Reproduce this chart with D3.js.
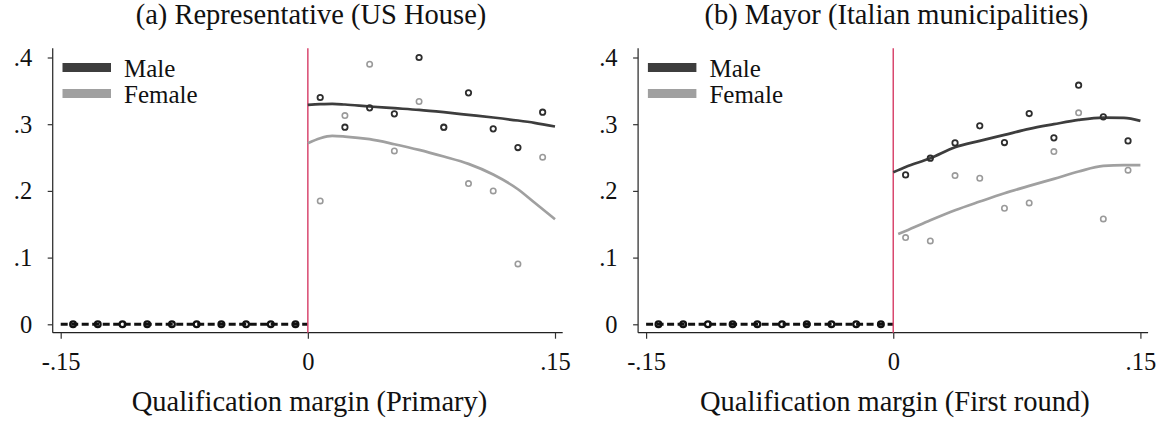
<!DOCTYPE html>
<html>
<head>
<meta charset="utf-8">
<script src="https://cdn.jsdelivr.net/npm/d3@7"></script>
<style>
  body { margin: 0; background: #fff; }
  svg { display: block; }
  text { font-family: "Liberation Serif", "Times New Roman", serif; fill: #111; }
</style>
</head>
<body>
<div id="chart"></div>
<script>
var width = 1167;
var height = 423;

// bin centres of the binned scatter
var binsLeft = [-0.1425, -0.1275, -0.1125, -0.0975, -0.0825, -0.0675, -0.0525, -0.0375, -0.0225, -0.0075];
var binsRight = [0.0075, 0.0225, 0.0375, 0.0525, 0.0675, 0.0825, 0.0975, 0.1125, 0.1275, 0.1425];
var zerosLeft = [0, 0, 0, 0, 0, 0, 0, 0, 0, 0];

// (a) US House
var houseMale = [0.340, 0.2955, 0.3245, 0.3155, 0.400, 0.2955, 0.347, 0.293, 0.265, 0.318];
var houseFemale = [0.185, 0.313, 0.390, 0.260, 0.334, 0.295, 0.211, 0.200, 0.0905, 0.2505];

// (b) Italian mayors
var mayorMale = [0.224, 0.249, 0.272, 0.2975, 0.2725, 0.316, 0.2795, 0.3585, 0.311, 0.275];
var mayorFemale = [0.130, 0.125, 0.223, 0.219, 0.174, 0.182, 0.259, 0.317, 0.158, 0.231];

// local polynomial fits
var fitX = [0, 0.0075, 0.0148, 0.0225, 0.0375, 0.0525, 0.0675, 0.0825, 0.0975, 0.1125, 0.1275, 0.1375, 0.15];
var houseMaleFit = [0.329, 0.330, 0.3305, 0.3295, 0.3265, 0.324, 0.3215, 0.318, 0.314, 0.310, 0.3055, 0.302, 0.2965];
var houseFemaleFit = [0.2715, 0.279, 0.2825, 0.2815, 0.2775, 0.270, 0.2615, 0.2515, 0.2405, 0.2245, 0.2025, 0.1825, 0.1575];
var mayorFitX = [0, 0.0075, 0.0225, 0.0375, 0.0525, 0.0675, 0.0825, 0.0975, 0.1125, 0.1275, 0.14, 0.15];
var mayorMaleFit = [0.228, 0.236, 0.249, 0.2655, 0.275, 0.284, 0.293, 0.300, 0.3065, 0.310, 0.3095, 0.305];
var mayorFemaleFitX = [0.003, 0.0075, 0.0225, 0.0375, 0.0525, 0.0675, 0.0825, 0.0975, 0.1125, 0.1275, 0.14, 0.15];
var mayorFemaleFit = [0.1355, 0.140, 0.156, 0.171, 0.184, 0.1965, 0.2075, 0.218, 0.229, 0.2375, 0.2385, 0.2385];

var xTicks = [-0.15, 0, 0.15];
var xTickLabels = ["-.15", "0", ".15"];
var yTicks = [0, 0.1, 0.2, 0.3, 0.4];
var yTickLabels = ["0", ".1", ".2", ".3", ".4"];
var legendLabels = ["Male", "Female"];

var maleColor = "#3d3d3d";
var femaleColor = "#a0a0a0";
var cutColor = "#d9486f";

var svg = d3.select("#chart").append("svg")
  .attr("width", width)
  .attr("height", height);

var y = d3.scaleLinear().domain([0, 0.4]).range([324.3, 57.5]);

function drawPanel(offset, title, xlabel, male, female, maleFitX, maleFit, femaleFitX, femaleFit) {
  var g = svg.append("g").attr("transform", "translate(" + offset + ",0)");
  var x = d3.scaleLinear().domain([-0.15, 0.15]).range([60.7, 555]);
  var axisLeft = 52.7, axisRight = 562.7, axisTop = 48.3, axisBottom = 332.7;

  // axes
  g.append("line")
    .attr("x1", axisLeft).attr("x2", axisLeft)
    .attr("y1", axisTop).attr("y2", axisBottom)
    .attr("stroke", "#333").attr("stroke-width", 1.3);
  g.append("line")
    .attr("x1", axisLeft).attr("x2", axisRight)
    .attr("y1", axisBottom).attr("y2", axisBottom)
    .attr("stroke", "#222").attr("stroke-width", 1.3);

  var xa = g.append("g")
    .attr("transform", "translate(0," + axisBottom + ")")
    .call(d3.axisBottom(x).tickValues(xTicks).tickSize(6).tickPadding(14)
      .tickFormat(function (d, i) { return xTickLabels[i]; }));
  xa.select(".domain").remove();
  xa.selectAll("line").attr("stroke", "#333").attr("stroke-width", 1.2);
  xa.selectAll("text").attr("font-size", 24.5).attr("font-family", "Liberation Serif").attr("fill", "#111");

  var ya = g.append("g")
    .attr("transform", "translate(" + axisLeft + ",0)")
    .call(d3.axisLeft(y).tickValues(yTicks).tickSize(5).tickPadding(15.5)
      .tickFormat(function (d, i) { return yTickLabels[i]; }));
  ya.select(".domain").remove();
  ya.selectAll("line").attr("stroke", "#333").attr("stroke-width", 1.2);
  ya.selectAll("text").attr("font-size", 24.5).attr("font-family", "Liberation Serif").attr("fill", "#111");

  // left of the threshold: both series are zero
  g.append("line")
    .attr("x1", x(-0.15)).attr("x2", x(0))
    .attr("y1", y(0)).attr("y2", y(0))
    .attr("stroke", "#111").attr("stroke-width", 3)
    .attr("stroke-dasharray", "7,3.5");
  g.selectAll(".zero")
    .data(binsLeft)
    .enter()
    .append("circle")
    .attr("cx", function (d) { return x(d); })
    .attr("cy", function (d, i) { return y(zerosLeft[i]); })
    .attr("r", 2.9)
    .attr("fill", "none")
    .attr("stroke", "#111")
    .attr("stroke-width", 2.2);

  // threshold
  g.append("line")
    .attr("x1", x(0)).attr("x2", x(0))
    .attr("y1", axisTop).attr("y2", axisBottom)
    .attr("stroke", cutColor).attr("stroke-width", 1.5);

  var line = d3.line().curve(d3.curveMonotoneX);

  g.append("path")
    .attr("d", line(maleFitX.map(function (d, i) { return [x(d), y(maleFit[i])]; })))
    .attr("fill", "none").attr("stroke", maleColor).attr("stroke-width", 2.7);
  g.append("path")
    .attr("d", line(femaleFitX.map(function (d, i) { return [x(d), y(femaleFit[i])]; })))
    .attr("fill", "none").attr("stroke", femaleColor).attr("stroke-width", 2.7);

  g.selectAll(".fpt")
    .data(female)
    .enter()
    .append("circle")
    .attr("cx", function (d, i) { return x(binsRight[i]); })
    .attr("cy", function (d) { return y(d); })
    .attr("r", 2.7)
    .attr("fill", "none")
    .attr("stroke", "#9a9a9a")
    .attr("stroke-width", 1.6);
  g.selectAll(".mpt")
    .data(male)
    .enter()
    .append("circle")
    .attr("cx", function (d, i) { return x(binsRight[i]); })
    .attr("cy", function (d) { return y(d); })
    .attr("r", 2.7)
    .attr("fill", "none")
    .attr("stroke", "#2e2e2e")
    .attr("stroke-width", 1.8);

  // legend
  var legendColors = [maleColor, femaleColor];
  var lg = g.selectAll(".leg")
    .data(legendLabels)
    .enter()
    .append("g")
    .attr("transform", function (d, i) { return "translate(0," + (i * 26) + ")"; });
  lg.append("rect")
    .attr("x", 62.5).attr("y", 63)
    .attr("width", 48.5).attr("height", 9)
    .attr("fill", function (d, i) { return legendColors[i]; });
  lg.append("text")
    .attr("x", 124).attr("y", 77)
    .attr("font-size", 25)
    .text(function (d) { return d; });

  // titles
  g.append("text")
    .attr("x", 311).attr("y", 24)
    .attr("text-anchor", "middle")
    .attr("font-size", 28.5)
    .text(title);
  g.append("text")
    .attr("x", 309.5).attr("y", 411)
    .attr("text-anchor", "middle")
    .attr("font-size", 28.5)
    .text(xlabel);
}

drawPanel(0, "(a) Representative (US House)", "Qualification margin (Primary)",
  houseMale, houseFemale, fitX, houseMaleFit, fitX, houseFemaleFit);
drawPanel(585.4, "(b) Mayor (Italian municipalities)", "Qualification margin (First round)",
  mayorMale, mayorFemale, mayorFitX, mayorMaleFit, mayorFemaleFitX, mayorFemaleFit);
</script>
</body>
</html>
